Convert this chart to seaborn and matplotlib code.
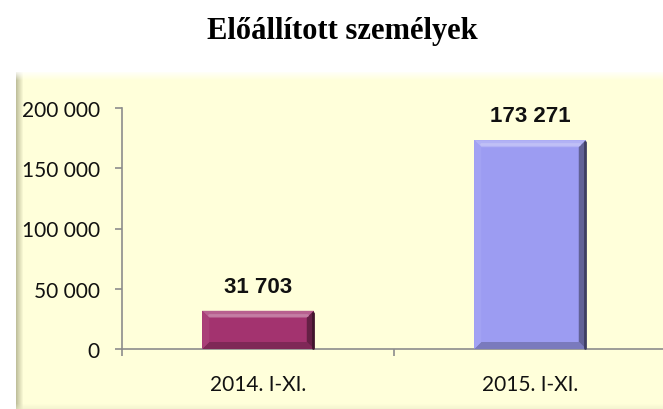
import numpy as np
import pandas as pd
import matplotlib
matplotlib.use("Agg")
import matplotlib.pyplot as plt
from matplotlib.patches import Polygon
from matplotlib.ticker import FuncFormatter, FixedLocator
import seaborn as sns

# Data
categories = ["2014. I-XI.", "2015. I-XI."]
values = [31703, 173271]
bar_colors = ["#A3336F", "#9C9CF2"]
title = "Előállított személyek"

df = pd.DataFrame({"period": categories, "count": values})

sns.set_theme(style="white")
plt.rcParams["font.family"] = ["Lato", "DejaVu Sans"]

W, H, DPI = 663, 410, 100
fig = plt.figure(figsize=(W / DPI, H / DPI), dpi=DPI)
fig.patch.set_facecolor("white")

# Pale yellow chart panel with a soft bevelled border
px0, py0 = 16, 73
pw, ph = W - px0, H - py0
bg_ax = fig.add_axes([px0 / W, 0, pw / W, ph / H])
base = np.array([255, 255, 218]) / 255.0
img = np.tile(base, (ph, pw, 1))
xs = np.arange(pw)
ys = np.arange(ph)
left = np.clip(1 - xs / 7.0, 0, 1)[None, :, None]
top = np.clip(1 - ys / 8.0, 0, 1)[:, None, None]
bottom = np.clip(1 - (ph - 1 - ys) / 5.0, 0, 1)[:, None, None]
dark = np.array([185, 185, 150]) / 255.0
img = img * (1 - 0.9 * left) + dark * 0.9 * left
img = img * (1 - 0.8 * top) + np.ones(3) * 0.8 * top
img = img * (1 - 0.5 * bottom) + np.array([235, 235, 200]) / 255.0 * 0.5 * bottom
bg_ax.imshow(img, aspect="auto", interpolation="bilinear")
bg_ax.set_axis_off()

# Main axes
ax = fig.add_axes([122 / W, 1 - 350 / H, (W - 122 + 3) / W, (350 - 109) / H])
ax.set_facecolor("none")
sns.barplot(data=df, x="period", y="count", hue="period", palette=bar_colors,
            width=0.41, legend=False, ax=ax, saturation=1, linewidth=0)
ax.set_xlim(-0.5, 1.5)
ax.set_ylim(0, 200000)
ax.set_xlabel("")
ax.set_ylabel("")

for side in ["top", "right"]:
    ax.spines[side].set_visible(False)
for side in ["left", "bottom"]:
    ax.spines[side].set_color("#8C8C8C")
    ax.spines[side].set_linewidth(1.2)

ax.set_yticks(np.arange(0, 200001, 50000))
ax.yaxis.set_major_formatter(FuncFormatter(lambda v, p: f"{int(v):,}".replace(",", " ")))
ax.tick_params(axis="y", direction="out", length=5, width=1.2, color="#8C8C8C",
               pad=11, labelsize=15, labelcolor="#111111", left=True)
ax.tick_params(axis="x", which="major", length=0, pad=18, labelsize=15,
               labelcolor="#111111", bottom=True)
ax.xaxis.set_minor_locator(FixedLocator([-0.5, 0.5, 1.5]))
ax.tick_params(axis="x", which="minor", direction="out", length=5, width=1.2,
               color="#8C8C8C", bottom=True)

# Value labels above the bars
for i, v in enumerate(values):
    ax.annotate(f"{v:,}".replace(",", " "), xy=(i, v), xytext=(0, 10),
                textcoords="offset points", ha="center", va="bottom",
                fontsize=16, fontweight="bold", family="Liberation Sans",
                color="#111111")


def mix(c, other, t):
    return c * (1 - t) + other * t


# Soft bevel shading on each bar, built from the drawn bar geometry
fig.canvas.draw()
to_fig = fig.transFigure.inverted()
b = 7.0
white, black = np.ones(3), np.zeros(3)
for patch, col in zip(ax.patches, bar_colors):
    bb = patch.get_window_extent()
    x0, y0, x1, y1 = bb.x0, bb.y0, bb.x1, bb.y1
    rgb = np.array(matplotlib.colors.to_rgb(col))
    faces = [
        ([(x0, y1), (x1, y1), (x1 - b, y1 - b), (x0 + b, y1 - b)], mix(rgb, white, 0.22)),
        ([(x1, y1), (x1, y0), (x1 - b, y0 + b), (x1 - b, y1 - b)], mix(rgb, black, 0.38)),
        ([(x0, y0), (x1, y0), (x1 - b, y0 + b), (x0 + b, y0 + b)], mix(rgb, black, 0.22)),
        ([(x0, y0), (x0, y1), (x0 + b, y1 - b), (x0 + b, y0 + b)], mix(rgb, white, 0.06)),
    ]
    for pts, c in faces:
        fpts = to_fig.transform(pts)
        fig.patches.append(Polygon(fpts, closed=True, transform=fig.transFigure,
                                   facecolor=c, edgecolor="none", zorder=5))
    # outermost dark rim on the right edge
    rpts = to_fig.transform([(x1 - 1.2, y1 - 2), (x1 - 1.2, y0 + 1)])
    fig.add_artist(plt.Line2D(rpts[:, 0], rpts[:, 1], transform=fig.transFigure,
                              color=mix(rgb, black, 0.6), lw=2.0, zorder=6))
    # light highlight along the top bevel
    hpts = to_fig.transform([(x0 + b, y1 - b * 0.6), (x1 - b, y1 - b * 0.6)])
    fig.add_artist(plt.Line2D(hpts[:, 0], hpts[:, 1], transform=fig.transFigure,
                              color=mix(rgb, white, 0.4), lw=2.0, alpha=0.8, zorder=6))

fig.text(342 / W, 1 - 31 / H, title, ha="center", va="center",
         fontsize=22, fontweight="bold", family="Liberation Serif", color="black")

fig.savefig("out.png", dpi=DPI)
